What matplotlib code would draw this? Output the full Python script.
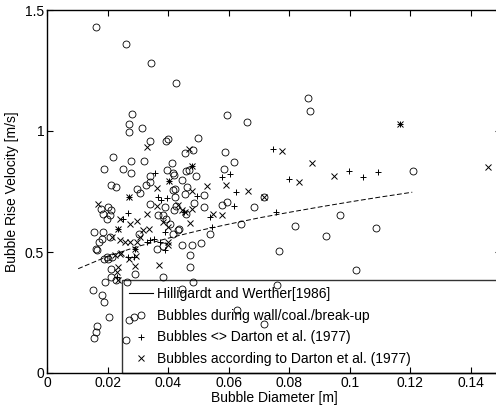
import matplotlib
matplotlib.use("Agg")
import matplotlib.pyplot as plt
from matplotlib.lines import Line2D

plt.rcParams['font.family'] = ['Liberation Sans', 'DejaVu Sans']

# Hilligardt and Werther [1986] curve
hw_d = [0.0103, 0.02, 0.03, 0.04, 0.05, 0.06, 0.07, 0.08, 0.09, 0.10, 0.11, 0.1206]
hw_u = [0.431, 0.482, 0.523, 0.557, 0.588, 0.615, 0.641, 0.664, 0.686, 0.707, 0.727, 0.747]

# Bubbles during wall/coal./break-up (circles)
circ_d = [0.0162, 0.026, 0.0343, 0.0427, 0.0281, 0.0272, 0.027, 0.0315, 0.0593, 0.066,
          0.0863, 0.0868, 0.034, 0.0393, 0.0398, 0.050, 0.0457, 0.0481, 0.0588, 0.0618,
          0.0217, 0.0188, 0.0277, 0.032, 0.0252, 0.0276, 0.034, 0.0395, 0.0413, 0.0415,
          0.0418, 0.0446, 0.0469, 0.0459, 0.0492, 0.0585, 0.0716, 0.0211, 0.0229, 0.0296,
          0.0307, 0.0327, 0.034, 0.0423, 0.0461, 0.0456, 0.0519, 0.0417, 0.0423, 0.0684,
          0.0577, 0.0518, 0.0593, 0.0485, 0.0459, 0.0426, 0.0419, 0.039, 0.034, 0.0202,
          0.0211, 0.0208, 0.0186, 0.0197, 0.0178, 0.0208, 0.0155, 0.0184, 0.0173, 0.0162,
          0.018, 0.0406, 0.0417, 0.0434, 0.0362, 0.0445, 0.0478, 0.0509, 0.0472, 0.0472,
          0.0197, 0.0213, 0.0189, 0.0211, 0.0211, 0.0228, 0.029, 0.0384, 0.0483, 0.0151,
          0.018, 0.0189, 0.0206, 0.0166, 0.0161, 0.0156, 0.0272, 0.0288, 0.0261, 0.0445,
          0.0626, 0.0716, 0.121, 0.0967, 0.0819, 0.0921, 0.1086, 0.0766, 0.102, 0.0758,
          0.0538, 0.064, 0.0436, 0.0164, 0.0384, 0.0365, 0.0382, 0.0393, 0.0305, 0.0202,
          0.0191, 0.0263]
circ_u = [1.43, 1.358, 1.28, 1.20, 1.07, 1.03, 0.994, 1.014, 1.068, 1.037,
          1.136, 1.084, 0.957, 0.96, 0.968, 0.971, 0.908, 0.923, 0.912, 0.871,
          0.892, 0.845, 0.875, 0.878, 0.842, 0.825, 0.813, 0.839, 0.868, 0.827,
          0.82, 0.798, 0.839, 0.833, 0.813, 0.843, 0.726, 0.777, 0.770, 0.761,
          0.743, 0.777, 0.788, 0.761, 0.768, 0.74, 0.736, 0.757, 0.727, 0.685,
          0.696, 0.688, 0.706, 0.702, 0.658, 0.692, 0.672, 0.685, 0.699, 0.685,
          0.672, 0.651, 0.658, 0.637, 0.679, 0.562, 0.582, 0.582, 0.541, 0.511,
          0.555, 0.616, 0.576, 0.589, 0.514, 0.527, 0.527, 0.537, 0.486, 0.436,
          0.479, 0.479, 0.472, 0.431, 0.397, 0.383, 0.411, 0.397, 0.376, 0.345,
          0.321, 0.294, 0.232, 0.195, 0.17, 0.143, 0.221, 0.232, 0.136, 0.349,
          0.26, 0.202, 0.836, 0.651, 0.606, 0.567, 0.599, 0.504, 0.424, 0.365,
          0.573, 0.614, 0.596, 0.507, 0.523, 0.651, 0.651, 0.637, 0.575, 0.472,
          0.376, 0.376]

# Bubbles <> Darton et al. (1977) (plus)
plus_d = [0.0357, 0.0605, 0.0577, 0.0625, 0.0496, 0.0367, 0.0395, 0.0375, 0.0268, 0.0252,
          0.0331, 0.0373, 0.039, 0.039, 0.0268, 0.023, 0.0747, 0.08, 0.0998, 0.1044,
          0.1094, 0.1165, 0.0756, 0.0618, 0.0544, 0.0538, 0.0353, 0.0452, 0.0478, 0.0404,
          0.0272, 0.0233, 0.029, 0.034, 0.0288]
plus_u = [0.825, 0.822, 0.809, 0.748, 0.733, 0.727, 0.724, 0.713, 0.66, 0.637,
          0.541, 0.541, 0.582, 0.507, 0.479, 0.397, 0.926, 0.802, 0.836, 0.809,
          0.829, 1.029, 0.667, 0.692, 0.605, 0.644, 0.555, 0.665, 0.857, 0.795,
          0.726, 0.596, 0.514, 0.548, 0.479]

# Bubbles according to Darton et al. (1977) (x)
xm_d = [0.0329, 0.0468, 0.0478, 0.0404, 0.0528, 0.059, 0.0665, 0.0716, 0.0272, 0.0362,
        0.048, 0.0434, 0.0445, 0.048, 0.0472, 0.0362, 0.0331, 0.0241, 0.0274, 0.0296,
        0.0169, 0.0233, 0.0213, 0.0241, 0.0258, 0.0274, 0.0296, 0.0307, 0.0318, 0.0337,
        0.04, 0.04, 0.037, 0.0293, 0.0292, 0.0235, 0.023, 0.0241, 0.0775, 0.0874,
        0.0833, 0.0949, 0.1165, 0.1457, 0.0549, 0.0577, 0.029, 0.0224, 0.0243, 0.0271,
        0.0384, 0.04, 0.0455, 0.0235]
xm_u = [0.932, 0.924, 0.857, 0.795, 0.773, 0.777, 0.754, 0.726, 0.726, 0.765,
        0.754, 0.696, 0.672, 0.679, 0.619, 0.692, 0.658, 0.637, 0.616, 0.63,
        0.699, 0.596, 0.562, 0.548, 0.541, 0.541, 0.541, 0.562, 0.589, 0.596,
        0.541, 0.527, 0.445, 0.482, 0.441, 0.436, 0.417, 0.493, 0.916, 0.867,
        0.788, 0.813, 1.029, 0.85, 0.658, 0.651, 0.514, 0.486, 0.496, 0.473,
        0.623, 0.603, 0.665, 0.383]

x_ticks = [0, 0.02, 0.04, 0.06, 0.08, 0.10, 0.12, 0.14]
x_ticklabels = ['0', '0.02', '0.04', '0.06', '0.08', '0.1', '0.12', '0.14']
y_ticks = [0, 0.5, 1.0, 1.5]
y_ticklabels = ['0', '0.5', '1', '1.5']

labels = ['Hilligardt and Werther[1986]',
          'Bubbles during wall/coal./break-up',
          'Bubbles <> Darton et al. (1977)',
          'Bubbles according to Darton et al. (1977)']

fig = plt.figure(figsize=(4.96, 4.12), dpi=100)
ax = fig.add_axes([47 / 496, 39 / 412, 454.3 / 496, 363 / 412])

ax.plot(hw_d, hw_u, color='black', lw=0.7, linestyle=(0, (5, 2.5)), zorder=3)
ax.plot(circ_d, circ_u, linestyle='none', marker='o', mfc='none', mec='black',
        ms=5, mew=0.6, zorder=3)
ax.plot(plus_d, plus_u, linestyle='none', marker='+', color='black',
        ms=5, mew=0.7, zorder=3)
ax.plot(xm_d, xm_u, linestyle='none', marker='x', color='black',
        ms=4.3, mew=0.7, zorder=3)

ax.set_xlim(0, 0.15)
ax.set_ylim(0, 1.5)
ax.set_xticks(x_ticks)
ax.set_xticklabels(x_ticklabels)
ax.set_yticks(y_ticks)
ax.set_yticklabels(y_ticklabels)
ax.tick_params(direction='in', length=4, width=0.8, top=True, right=True,
               labelsize=10, pad=2)
for s in ax.spines.values():
    s.set_linewidth(1.0)

ax.set_xlabel('Bubble Diameter [m]', fontsize=10, labelpad=1)
ax.set_ylabel('Bubble Rise Velocity [m/s]', fontsize=10, labelpad=4)

handles = [
    Line2D([], [], color='black', lw=0.8),
    Line2D([], [], linestyle='none', marker='o', mfc='none', mec='black', ms=5, mew=0.6),
    Line2D([], [], linestyle='none', marker='+', color='black', ms=5, mew=0.7),
    Line2D([], [], linestyle='none', marker='x', color='black', ms=4.3, mew=0.7),
]
leg = ax.legend(handles, labels, loc='lower left',
                bbox_to_anchor=(75 / 454.3, 0.0, 0.9, 0.26), mode='expand',
                fontsize=10, frameon=True, fancybox=False, borderaxespad=0,
                handlelength=1.7, handletextpad=0.35, labelspacing=0.55,
                borderpad=0.5)
leg.get_frame().set_edgecolor('black')
leg.get_frame().set_linewidth(1.0)
leg.get_frame().set_facecolor('none')

fig.savefig('out.png', dpi=100)
